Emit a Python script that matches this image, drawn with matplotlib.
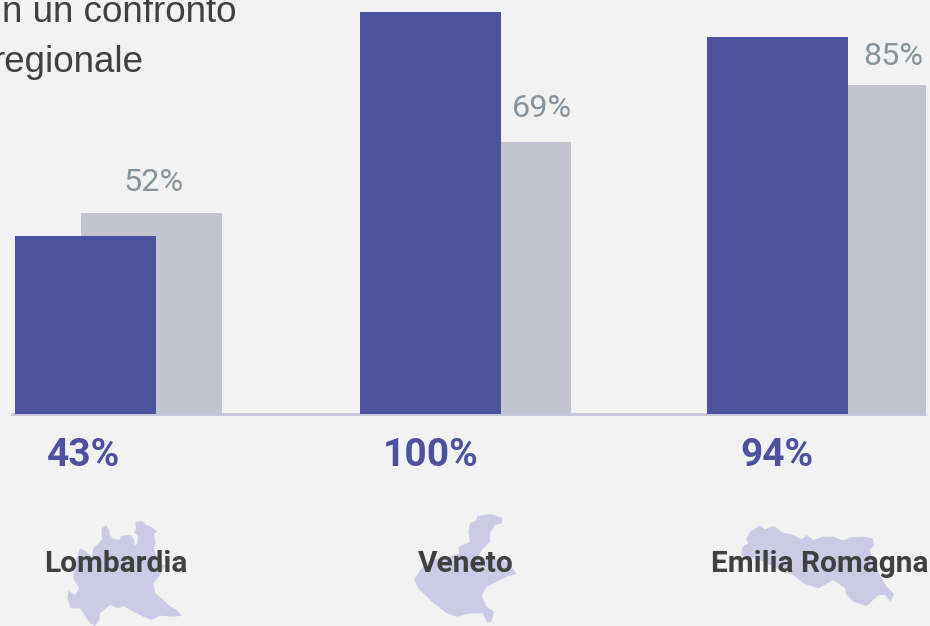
import matplotlib
matplotlib.use("Agg")
import matplotlib.pyplot as plt
from matplotlib.patches import Polygon

# values
regions = ["Lombardia", "Veneto", "Emilia Romagna"]
blue_labels = ["43%", "100%", "94%"]
grey_labels = ["52%", "69%", "85%"]
blue_heights = [44.3, 100.0, 93.8]
grey_heights = [50.0, 67.7, 81.8]

# layout, in pixels of the 930x626 image
W, H = 930, 626
BASE = 414
PX_PER_UNIT = 4.02
blue_x = [85.5, 430.5, 777.5]
grey_x = [151.5, 500.5, 855.5]
BAR_W = 141

BLUE = "#4c529d"
GREY = "#c2c5cd"
MAP = "#cbcbe6"
DARK = "#404040"

# outlines of the regions (3x zoom coords + crop offset)
lombardia = [(305,85),(318,77),(328,90),(330,105),(340,118),(360,118),(362,108),(392,104),(402,120),(404,135),
             (412,132),(414,108),(402,97),(408,88),(406,66),(425,63),(440,75),(455,82),(472,95),(462,102),
             (466,130),(462,150),(480,190),(495,197),(480,225),(460,250),(466,280),(490,300),(505,315),(530,330),
             (547,347),(520,350),(480,347),(455,360),(430,350),(400,335),(370,318),(355,325),(330,315),(300,340),
             (298,360),(285,378),(270,370),(250,340),(240,325),(212,325),(202,295),(205,272),(225,285),(238,265),
             (220,235),(222,200),(232,170),(240,145),(255,152),(275,170),(280,145),(305,120)]
veneto = [(360,68),(378,62),(382,48),(420,42),(455,52),(456,70),(435,75),(420,100),(420,125),(395,150),
          (385,170),(460,180),(485,200),(500,222),(470,230),(440,245),(420,255),(410,260),(395,285),(400,300),
          (410,320),(432,335),(425,365),(412,368),(398,340),(360,340),(320,350),(290,340),(240,300),(205,265),
          (192,238),(215,205),(240,180),(300,170),(328,160),(325,142),(360,125),(355,95)]
emilia = [(180,95),(210,77),(225,88),(250,78),(280,98),(310,105),(335,118),(350,105),(370,120),(400,110),
          (430,110),(460,122),(480,112),(520,110),(548,115),(552,135),(540,150),(555,200),(590,260),(612,282),
          (602,305),(585,285),(565,285),(530,318),(490,305),(470,285),(465,265),(430,240),(385,265),(340,250),
          (310,225),(270,210),(220,185),(170,170),(155,165),(157,140),(175,130),(168,118)]
shapes = [(lombardia, 0, 500), (veneto, 350, 500), (emilia, 690, 500)]

fig = plt.figure(figsize=(W / 100, H / 100), dpi=100, facecolor="#f2f2f2")
ax = fig.add_axes([0, 0, 1, 1])
ax.set_xlim(0, W)
# y axis in percent, with the image height kept in pixels
ax.set_ylim(-(H - BASE) / PX_PER_UNIT, BASE / PX_PER_UNIT)
ax.axis("off")


def py(p):
    # pixel row to y data value
    return (BASE - p) / PX_PER_UNIT


# maps go below the names
for pts, ox, oy in shapes:
    ax.add_patch(Polygon([(x / 3 + ox, py(y / 3 + oy)) for x, y in pts], closed=True,
                         facecolor=MAP, edgecolor="none", zorder=1))

ax.plot([11, 926], [py(414.2), py(414.2)], color="#c6c7d8", lw=2.2, zorder=1, solid_capstyle="butt")

ax.bar(grey_x, grey_heights, width=BAR_W, color=GREY, zorder=2)
ax.bar(blue_x, blue_heights, width=BAR_W, color=BLUE, zorder=3)

grey_label_x = [154, 542, 893]
grey_label_row = [191, 117, 65]
for x, r, s in zip(grey_label_x, grey_label_row, grey_labels):
    ax.text(x, py(r), s, ha="center", va="baseline", fontsize=23.3,
            family="Roboto", color="#87939a", zorder=4)

blue_label_x = [84, 431, 777]
for x, s in zip(blue_label_x, blue_labels):
    ax.text(x, py(466.5), s, ha="center", va="baseline", fontsize=28, family="Roboto",
            fontweight="bold", color=BLUE, zorder=4)

name_x = [116, 466, 820]
for x, s in zip(name_x, regions):
    ax.text(x, py(572), s, ha="center", va="baseline", fontsize=21.5, family="Roboto",
            fontweight="bold", color=DARK, zorder=4)

# title is cut by the image edge on the left
ax.text(236.5, py(21.5), "n un confronto", ha="right", va="baseline", fontsize=26.5,
        family="Liberation Sans", color=DARK, zorder=4)
ax.text(143, py(72), "regionale", ha="right", va="baseline", fontsize=26.5,
        family="Liberation Sans", color=DARK, zorder=4)

fig.savefig("out.png", dpi=100, facecolor=fig.get_facecolor())
